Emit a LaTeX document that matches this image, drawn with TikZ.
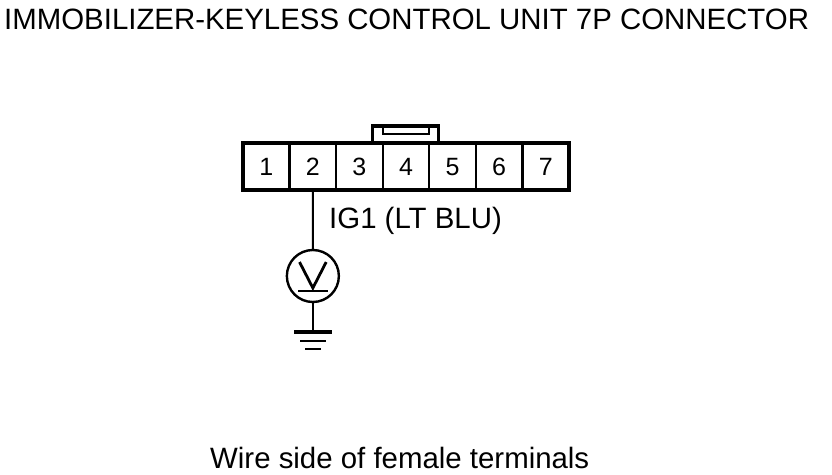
\documentclass[tikz,border=0pt]{standalone}
\usepackage{fontspec}
\setmainfont{Liberation Sans}
\usetikzlibrary{matrix}
\begin{document}
\begin{tikzpicture}[x=1pt,y=-1pt]

\def\lwthin{2.2pt}
\def\lwblk{3.4pt}
\tikzset{
caption/.style = {anchor=base west,inner sep=0pt,font=\fontsize{29.4}{30}\selectfont},
pin/.style = {draw,line width=\lwthin,outer sep=0pt,minimum width=46.57pt,minimum height=47pt,inner sep=0pt,font=\fontsize{25}{25}\selectfont},
meter/.style = {draw,circle,line width=2.4pt,outer sep=0pt,minimum size=52pt,inner sep=0pt}
}

\useasboundingbox (0,0) rectangle (832,474);

\node[caption] (title) at (4,29) {IMMOBILIZER-KEYLESS CONTROL UNIT 7P CONNECTOR};
\node[caption] (wire) at (329,228) {IG1 (LT BLU)};
\node[caption] (side) at (210,468) {Wire side of female terminals};

\matrix (m) at (406,166.5) [matrix of nodes,nodes={pin},column sep=-2.2pt,inner sep=0pt,outer sep=0pt]
{
1 &2 &3 &4 &5 &6 &7\\
};

\draw[line width=\lwblk] (m-1-1.north west) rectangle (m-1-7.south east);

% locking tab
\draw[line width=\lwblk] (m-1-3.north east)++(-10,0) -- ++(0,-17) -- ++(66,0) -- ++(0,17);
\draw[line width=\lwthin] (383,126) -- (383,134) -- (429,134) -- (429,126);

\node[meter] (v) at (312.86,276) {};
\draw[line width=2.8pt] (299.5,262) -- (312.86,288) -- (326.2,262);
\draw[line width=2.8pt] (298,291) -- (328,291);

\coordinate (gnd) at (312.86,332);
\draw[line width=\lwthin] (m-1-2.south) -- (v.north);
\draw[line width=\lwthin] (v.south) -- (gnd);
\draw[line width=3.2pt] (294,332) -- (332,332);
\draw[line width=2.6pt] (300,341) -- (326,341);
\draw[line width=2.6pt] (305,349) -- (321,349);

\end{tikzpicture}
\end{document}
